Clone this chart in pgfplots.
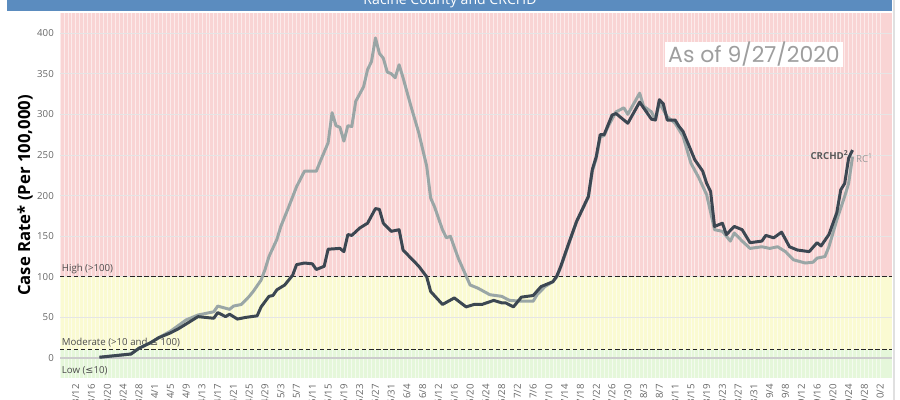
\documentclass[border=0pt]{standalone}
\usepackage{pgfplots}
\pgfplotsset{compat=1.18}
\usepackage{fontspec}
\setmainfont{Open Sans}
\newfontfamily\dejavu{DejaVu Sans}
\newfontfamily\asoffont{Poppins}

\definecolor{bandred}{HTML}{F9D4D4}
\definecolor{bandyel}{HTML}{FAFAD2}
\definecolor{bandgrn}{HTML}{E5F7DA}
\definecolor{rcgray}{HTML}{9AA6A6}
\definecolor{crdark}{HTML}{3C4752}
\definecolor{titleblue}{HTML}{5B8CBF}
\definecolor{labgray}{HTML}{666666}

\newcommand{\smallsz}{\fontsize{5.5}{6.5}\selectfont}

\begin{document}
\begin{tikzpicture}
% title strip, mostly cut off at the top
\fill[titleblue] (0.14,7.78) rectangle (17.84,8.3);
\node[white, anchor=base, font=\fontsize{8}{9}\selectfont] at (9,7.9) {Racine County and CRCHD};
\draw[black!12, line width=0.6pt] (17.88,0) -- (17.88,8);

\begin{axis}[
  set layers=standard,
  at={(1.2cm,0.44cm)}, anchor=south west,
  width=16.64cm, height=7.3cm, scale only axis,
  xmin=-4, xmax=207, ymin=-24.5, ymax=424.7,
  axis line style={draw=none},
  tick style={draw=none},
  xtick={-4,0,...,204},
  xticklabels={,3/12,3/16,3/20,3/24,3/28,4/1,4/5,4/9,4/13,4/17,4/21,4/25,4/29,5/3,5/7,5/11,5/15,5/19,5/23,5/27,5/31,6/4,6/8,6/12,6/16,6/20,6/24,6/28,7/2,7/6,7/10,7/14,7/18,7/22,7/26,7/30,8/3,8/7,8/11,8/15,8/19,8/23,8/27,8/31,9/4,9/8,9/12,9/16,9/20,9/24,9/28,10/2},
  minor x tick num=3,
  ytick={0,50,...,400},
  grid=both,
  major x grid style={white, opacity=0.55, line width=0.4pt},
  minor x grid style={white, opacity=0.55, line width=0.4pt},
  major y grid style={black!10, line width=0.5pt},
  xticklabel style={rotate=90, anchor=east, font=\smallsz, text=labgray},
  yticklabel style={font=\smallsz, text=labgray},
  /pgf/number format/assume math mode=true,
  ylabel={Case Rate* (Per 100,000)},
  ylabel style={at={(axis description cs:-0.042,0.5)}, anchor=center,
    font=\fontsize{9.5}{11}\selectfont\bfseries},
]
\begin{pgfonlayer}{axis background}
\fill[bandred] (axis cs:-4,100) rectangle (axis cs:207,424.7);
\fill[bandyel] (axis cs:-4,10) rectangle (axis cs:207,100);
\fill[bandgrn] (axis cs:-4,-24.5) rectangle (axis cs:207,10);
\end{pgfonlayer}

\draw[black!20, line width=1.1pt] (axis cs:-4,0) -- (axis cs:207,0);
\draw[black!85, dashed, dash pattern=on 2.4pt off 1.6pt, line width=0.6pt] (axis cs:-4,100) -- (axis cs:207,100);
\draw[black!85, dashed, dash pattern=on 2.4pt off 1.6pt, line width=0.6pt] (axis cs:-4,10) -- (axis cs:207,10);

\node[anchor=west, inner sep=0, font=\smallsz, text=black!70] at (axis cs:-3.6,109.5) {High (>100)};
\node[anchor=west, inner sep=0, font=\smallsz, text=black!70] at (axis cs:-3.6,19) {Moderate (>10 and {\dejavu ≤} 100)};
\node[anchor=west, inner sep=0, font=\smallsz, text=black!70] at (axis cs:-3.6,-15.8) {Low ({\dejavu ≤}10)};

% RC
\addplot[rcgray, line width=1.7pt, line join=round] coordinates {
(6,1) (10,3) (14,5) (16,12) (19,19) (21,25) (24,33) (28,47) (31,53) (35,57) (36,64) (39,60) (40,64) (42,66) (44,76) (45,82) (47,96) (48,109) (49,125) (51,146) (52,162) (54,186) (56,211) (58,230) (61,230) (62,242) (64,265) (65,302) (66,286) (67,284) (68,267) (69,286) (70,285) (71,316) (73,334) (74,355) (75,365) (76,394) (77,375) (78,369) (79,352) (80,350) (81,345) (82,361) (83,345) (85,310) (87,277) (89,236) (90,197) (91,186) (93,158) (94,148) (95,150) (97,123) (100,90) (102,86) (105,78) (108,76) (110,71) (113,70) (116,70) (117,78) (119,88) (121,94) (122,100) (123,112) (125,140) (127,168) (130,198) (131,230) (132,246) (133,272) (134,274) (135,285) (137,303) (139,308) (140,300) (143,326) (144,310) (146,303) (147,293) (148,314) (150,297) (152,289) (154,273) (156,240) (158,222) (160,201) (162,158) (164,156) (166,144) (167,154) (169,144) (171,135) (174,137) (176,135) (178,137) (180,131) (182,121) (185,117) (187,118) (188,123) (190,125) (191,137) (193,170) (195,199) (196,215) (197,248)
};
% CRCHD
\addplot[crdark, line width=1.7pt, line join=round] coordinates {
(6,1) (10,3) (14,5) (16,12) (19,19) (21,25) (24,31) (26,36) (29,45) (31,51) (33,50) (35,49) (36,56) (38,51) (39,54) (41,48) (43,50) (46,52) (47,63) (49,76) (50,77) (51,84) (53,90) (55,102) (56,115) (58,117) (60,116) (61,109) (63,113) (64,134) (67,135) (68,131) (69,152) (70,151) (72,160) (74,166) (76,184) (77,183) (78,166) (80,156) (82,158) (83,133) (85,123) (87,113) (89,100) (90,82) (93,66) (96,74) (99,63) (101,66) (103,66) (106,71) (108,68) (109,68) (111,63) (113,75) (116,77) (118,88) (121,94) (122,101) (123,113) (125,141) (127,168) (130,199) (131,232) (132,248) (133,275) (134,275) (135,287) (136,299) (137,301) (140,289) (143,315) (146,294) (147,293) (148,318) (149,313) (150,293) (152,293) (153,285) (154,279) (157,244) (159,230) (160,215) (161,205) (162,162) (164,166) (165,152) (167,162) (169,158) (171,142) (174,144) (175,151) (177,148) (179,155) (181,137) (183,133) (186,131) (188,142) (189,138) (191,152) (193,179) (194,207) (195,215) (196,246) (197,256)
};

\node[anchor=east, inner sep=0.5pt, font=\smallsz\bfseries, text=black!65] at (axis cs:196.3,250) {CRCHD\textsuperscript{2}};
\node[anchor=west, inner sep=0.5pt, font=\smallsz, text=black!40] at (axis cs:197.6,246) {RC\textsuperscript{1}};
\end{axis}

\node[fill=white, minimum width=3.56cm, minimum height=0.5cm, inner sep=0, text=black!38,
  font=\asoffont\fontsize{12.5}{14}\selectfont] at (15.08,6.91) {As of 9/27/2020};

\pgfresetboundingbox
\useasboundingbox (0,0) rectangle (18,8);
\end{tikzpicture}
\end{document}
